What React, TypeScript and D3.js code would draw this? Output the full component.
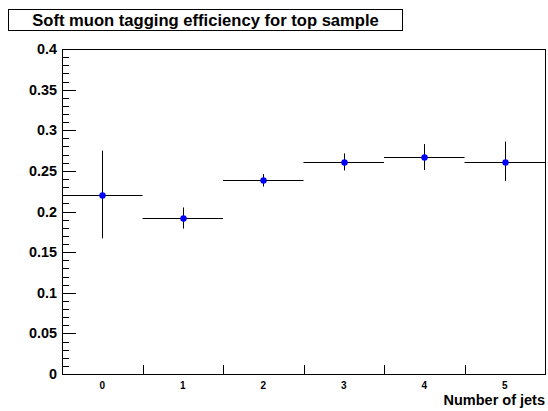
import React from "react";
import * as d3 from "d3";

const categories = ["0", "1", "2", "3", "4", "5"];
const values = [0.2205, 0.192, 0.2385, 0.261, 0.267, 0.2613];
const errLow = [0.167, 0.179, 0.2307, 0.2505, 0.251, 0.2377];
const errHigh = [0.275, 0.205, 0.246, 0.2715, 0.283, 0.286];
const yTicks = [0, 0.05, 0.1, 0.15, 0.2, 0.25, 0.3, 0.35, 0.4];
const titleText = "Soft muon tagging efficiency for top sample";
const xTitle = "Number of jets";

export default function App() {
  const W = 548, H = 411;
  const L = 62, R = 545, T = 49, B = 374;
  const x = d3.scaleLinear().domain([-0.5, 5.5]).range([L, R]);
  const y = d3.scaleLinear().domain([0, 0.4]).range([B, T]);
  const minor = d3.range(0, 0.4001, 0.01);
  const font = "'Liberation Sans', Arial, Helvetica, sans-serif";
  return (
    <svg width={W} height={H} style={{ position: "absolute", left: 0, top: 0, background: "#fff" }}>
      <rect x={0} y={0} width={W} height={H} fill="#fff" />
      <rect x={8.5} y={9.5} width={394} height={21} fill="#fff" stroke="#000" strokeWidth={1} />
      <text x={205.5} y={26} textAnchor="middle" fontFamily={font} fontWeight="bold" fontSize={16.6}>{titleText}</text>
      <rect x={L + 0.5} y={T + 0.5} width={R - L} height={B - T} fill="none" stroke="#000" strokeWidth={1} />
      {minor.map((v, i) => {
        const major = i % 5 === 0;
        return <line key={"m" + i} x1={L} x2={L + (major ? 14 : 7)} y1={Math.round(y(v)) + 0.5} y2={Math.round(y(v)) + 0.5} stroke="#000" strokeWidth={1} />;
      })}
      {yTicks.map((v) => (
        <text key={"yt" + v} x={57} y={y(v) + 5} textAnchor="end" fontFamily={font} fontWeight="bold" fontSize={14.4}>{d3.format("")(v)}</text>
      ))}
      {categories.slice(1).map((c, i) => (
        <line key={"xt" + i} x1={Math.round(x(i + 0.5)) + 0.5} x2={Math.round(x(i + 0.5)) + 0.5} y1={B} y2={B - 9} stroke="#000" strokeWidth={1} />
      ))}
      {categories.map((c, i) => (
        <text key={"xl" + i} x={x(i)} y={389} textAnchor="middle" fontFamily={font} fontWeight="bold" fontSize={10}>{c}</text>
      ))}
      <text x={R} y={405} textAnchor="end" fontFamily={font} fontWeight="bold" fontSize={14.5}>{xTitle}</text>
      {values.map((v, i) => (
        <g key={"p" + i}>
          <line x1={x(i - 0.5)} x2={x(i + 0.5)} y1={Math.round(y(v)) + 0.5} y2={Math.round(y(v)) + 0.5} stroke="#000" strokeWidth={1} />
          <line x1={Math.round(x(i)) + 0.5} x2={Math.round(x(i)) + 0.5} y1={y(errLow[i])} y2={y(errHigh[i])} stroke="#000" strokeWidth={1} />
          <circle cx={Math.round(x(i)) + 0.5} cy={Math.round(y(v)) + 0.5} r={3.2} fill="#0000ff" />
        </g>
      ))}
    </svg>
  );
}
